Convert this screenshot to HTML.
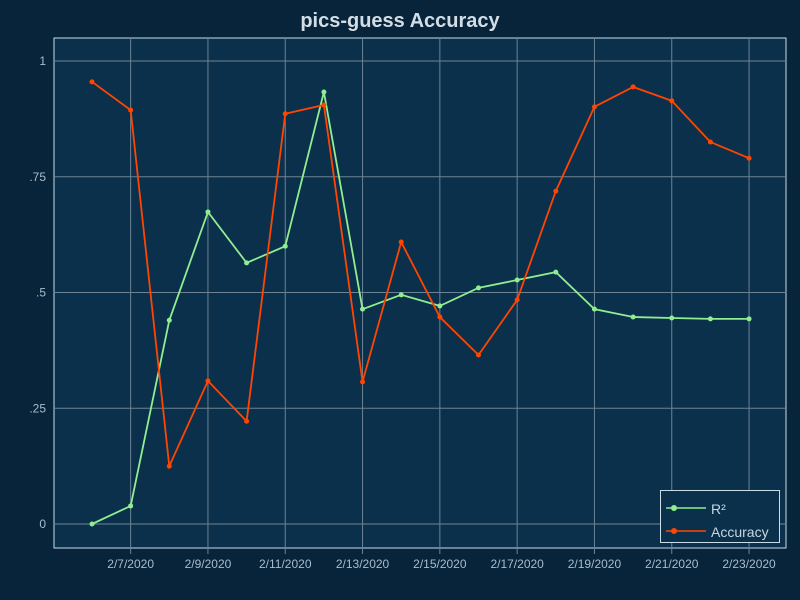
<!DOCTYPE html>
<html><head><meta charset="utf-8"><style>
body{margin:0;background:#07243a;}
svg{display:block;font-family:"Liberation Sans",sans-serif;}
</style></head><body>
<svg id="c" width="800" height="600">
<rect width="800" height="600" fill="#07243a"/>
<text x="400" y="27" text-anchor="middle" font-size="20" font-weight="bold" fill="#d3dde5">pics-guess Accuracy</text>
<rect x="54" y="38" width="732" height="510" fill="#0b304b" stroke="#c8dde8" stroke-width="1"/>
<g id="grid"></g><g id="series"></g>
<g>
<rect x="660.5" y="490.5" width="119" height="52" fill="#0b304b" stroke="#c8dde8"/>
<g><line x1="666" y1="508" x2="706" y2="508" stroke="#90ee90" stroke-width="1.5"/><circle cx="674" cy="508" r="3" fill="#90ee90"/><text x="711" y="514" font-size="14" fill="#c8d6e0">R²</text></g>
<g><line x1="666" y1="531" x2="706" y2="531" stroke="#ff4500" stroke-width="1.5"/><circle cx="674" cy="531" r="3" fill="#ff4500"/><text x="711" y="537" font-size="14" fill="#c8d6e0">Accuracy</text></g>
</g>
</svg>
<script>
const dates=["2/6/2020","2/7/2020","2/8/2020","2/9/2020","2/10/2020","2/11/2020","2/12/2020","2/13/2020","2/14/2020","2/15/2020","2/16/2020","2/17/2020","2/18/2020","2/19/2020","2/20/2020","2/21/2020","2/22/2020","2/23/2020"];
const r2=[0,0.039,0.44,0.674,0.564,0.60,0.933,0.464,0.495,0.471,0.51,0.527,0.544,0.464,0.447,0.445,0.443,0.443];
const accuracy=[0.955,0.894,0.125,0.309,0.222,0.886,0.905,0.307,0.609,0.447,0.365,0.484,0.719,0.901,0.944,0.914,0.825,0.79];
const yTicks=[0,0.25,0.5,0.75,1];
const yTickLabels=["0",".25",".5",".75","1"];
const NS="http://www.w3.org/2000/svg";
const xs=i=>92+i*38.65;
const ys=v=>524-v*463;
const grid=document.getElementById('grid'),series=document.getElementById('series');
function mk(t,a,p){const e=document.createElementNS(NS,t);for(const k in a)e.setAttribute(k,a[k]);p.appendChild(e);return e;}
yTicks.forEach((v,i)=>{
  const l=mk('line',{x1:54,x2:786,y1:ys(v),y2:ys(v),stroke:'#6c8394','stroke-width':1},grid);
  
  
  const t=mk('text',{x:46,y:ys(v)+4,'text-anchor':'end','font-size':12,fill:'#a9bccb'},grid);
  t.textContent=yTickLabels[i];
  
  
});
dates.forEach((d,i)=>{
  if(i%2!==1)return;
  const l=mk('line',{x1:xs(i),x2:xs(i),y1:38,y2:554,stroke:'#6c8394','stroke-width':1},grid);
  
  
  const t=mk('text',{x:xs(i),y:568,'text-anchor':'middle','font-size':12,fill:'#a9bccb'},grid);
  t.textContent=d;
  
  
});
function draw(vals,color,name){
  const p=mk('polyline',{points:vals.map((v,i)=>xs(i)+','+ys(v)).join(' '),fill:'none',stroke:color,'stroke-width':1.8},series);
  
  
  vals.forEach((v,i)=>{
    const c=mk('circle',{cx:xs(i),cy:ys(v),r:2.5,fill:color},series);
    
    
  });
}
draw(r2,'#90ee90','r2');
draw(accuracy,'#ff4500','accuracy');
</script>
</body></html>
